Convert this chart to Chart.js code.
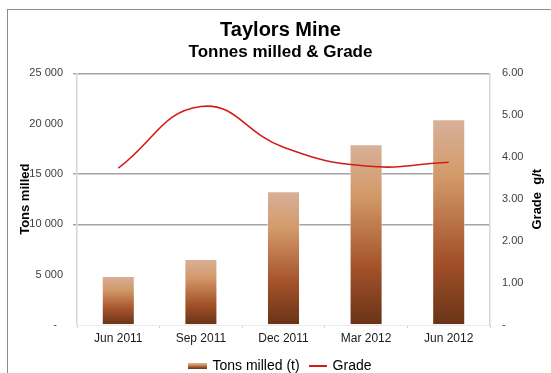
<!DOCTYPE html>
<html>
<head>
<meta charset="utf-8">
<script src="https://cdn.jsdelivr.net/npm/chart.js@4"></script>
<style>
    html, body { margin: 0; padding: 0; background: #fff; overflow: hidden; }
    #frame { position: absolute; left: 7px; top: 9px; width: 560px; height: 400px; border: 1px solid #8c8c8c; box-sizing: border-box; }
    #wrap { position: absolute; left: 0; top: 0; width: 551px; height: 386px; }
</style>
</head>
<body>
<div id="frame"></div>
<div id="wrap"><canvas id="mineChart" width="551" height="386"></canvas></div>
<script>
    const categories = ['Jun 2011', 'Sep 2011', 'Dec 2011', 'Mar 2012', 'Jun 2012'];
    const tonsMilled = [4870, 6550, 13300, 17950, 20450];
    const grade = [3.74, 5.21, 4.24, 3.79, 3.88];
    const tonsTicks = [0, 5000, 10000, 15000, 20000, 25000];
    const gradeTicks = [0, 1, 2, 3, 4, 5, 6];
    const tonsGridAt = [10000, 15000, 25000];

    const FONT = '"Liberation Sans", Arial, sans-serif';

    function brownGradient(ctx, top, bottom) {
        const g = ctx.createLinearGradient(0, top, 0, bottom);
        g.addColorStop(0, '#d8b09a');
        g.addColorStop(0.28, '#d39a69');
        g.addColorStop(0.68, '#a4522a');
        g.addColorStop(1, '#693317');
        return g;
    }

    function barFill(c) {
        const y = c.chart.scales.y;
        if (!y || c.raw == null) return '#a4522a';
        return brownGradient(c.chart.ctx, y.getPixelForValue(c.raw), y.getPixelForValue(0));
    }

    function fmtTons(v) {
        if (v === 0) return '-  ';
        return String(v).replace(/\B(?=(\d{3})+(?!\d))/g, ' ');
    }

    function makeSwatch(w, h, draw) {
        const cv = document.createElement('canvas');
        cv.width = w;
        cv.height = h;
        draw(cv.getContext('2d'));
        return cv;
    }

    const barSwatch = makeSwatch(19, 6, function (c) {
        c.fillStyle = brownGradient(c, 0, 6);
        c.fillRect(0, 0, 19, 6);
    });
    const lineSwatch = makeSwatch(18, 2, function (c) {
        c.fillStyle = '#d41c1c';
        c.fillRect(0, 0, 18, 2);
    });

    // right axis title reads bottom-to-top like the left one
    const rightTitle = {
        id: 'rightTitle',
        afterDraw: function (chart) {
            const s = chart.scales.y1;
            const ctx = chart.ctx;
            ctx.save();
            ctx.translate(s.right - 10, (s.top + s.bottom) / 2);
            ctx.rotate(-Math.PI / 2);
            ctx.textAlign = 'center';
            ctx.textBaseline = 'middle';
            ctx.fillStyle = '#000';
            ctx.font = 'bold 13px ' + FONT;
            ctx.fillText('Grade  g/t', 0, 0);
            ctx.restore();
        }
    };

    new Chart(document.getElementById('mineChart'), {
        data: {
            labels: categories,
            datasets: [
                {
                    type: 'line',
                    label: 'Grade',
                    data: grade,
                    yAxisID: 'y1',
                    borderColor: '#d41c1c',
                    borderWidth: 1.6,
                    tension: 0.45,
                    pointRadius: 0,
                    fill: false,
                    order: 0
                },
                {
                    type: 'bar',
                    label: 'Tons milled (t)',
                    data: tonsMilled,
                    yAxisID: 'y',
                    backgroundColor: barFill,
                    borderColor: 'rgba(255,255,255,0.5)',
                    borderWidth: 1,
                    barPercentage: 0.4,
                    categoryPercentage: 1,
                    order: 1
                }
            ]
        },
        options: {
            responsive: false,
            animation: false,
            layout: { padding: { top: 18, left: 14, right: 4, bottom: 3 } },
            plugins: {
                title: {
                    display: true,
                    text: 'Taylors Mine',
                    color: '#000',
                    font: { family: FONT, size: 20, weight: 'bold' },
                    padding: { top: 0, bottom: 0 }
                },
                subtitle: {
                    display: true,
                    text: 'Tonnes milled & Grade',
                    color: '#000',
                    font: { family: FONT, size: 17, weight: 'bold' },
                    padding: { top: 0, bottom: 11 }
                },
                legend: {
                    position: 'bottom',
                    labels: {
                        usePointStyle: true,
                        pointStyleWidth: 16,
                        boxHeight: 14,
                        padding: 10,
                        color: '#1a1a1a',
                        font: { family: FONT, size: 14 },
                        generateLabels: function () {
                            return [
                                { text: 'Tons milled (t)', pointStyle: barSwatch, fillStyle: '#a4522a', strokeStyle: 'transparent', lineWidth: 0, datasetIndex: 1 },
                                { text: 'Grade', pointStyle: lineSwatch, fillStyle: '#d41c1c', strokeStyle: 'transparent', lineWidth: 0, datasetIndex: 0 }
                            ];
                        }
                    }
                },
                tooltip: { enabled: false }
            },
            scales: {
                x: {
                    grid: {
                        offset: true,
                        drawOnChartArea: false,
                        drawTicks: true,
                        tickLength: 3,
                        tickColor: '#d0d0d0'
                    },
                    border: { display: true, color: '#ececec' },
                    ticks: {
                        padding: 3,
                        color: '#1a1a1a',
                        font: { family: FONT, size: 12 }
                    },
                    afterFit: function (s) { s.height = 24; }
                },
                y: {
                    position: 'left',
                    min: 0,
                    max: 25000,
                    afterBuildTicks: function (s) { s.ticks = tonsTicks.map(function (v) { return { value: v }; }); },
                    grid: {
                        color: function (c) { return tonsGridAt.indexOf(c.tick && c.tick.value) >= 0 ? '#a3a3a3' : 'rgba(0,0,0,0)'; },
                        lineWidth: 1.5,
                        tickLength: 4
                    },
                    border: { display: true, color: '#d6d6d6', width: 1.5 },
                    ticks: {
                        padding: 10,
                        color: '#404040',
                        font: { family: FONT, size: 11 },
                        callback: fmtTons
                    },
                    title: {
                        display: true,
                        text: 'Tons milled',
                        color: '#000',
                        font: { family: FONT, size: 13, weight: 'bold' },
                        padding: { top: 4, bottom: 0 }
                    },
                    afterFit: function (s) { s.width = 63; }
                },
                y1: {
                    position: 'right',
                    min: 0,
                    max: 6,
                    afterBuildTicks: function (s) { s.ticks = gradeTicks.map(function (v) { return { value: v }; }); },
                    grid: { display: false, drawTicks: false },
                    border: { display: true, color: '#d6d6d6', width: 1.5 },
                    ticks: {
                        padding: 12,
                        color: '#404040',
                        font: { family: FONT, size: 11 },
                        callback: function (v) { return v === 0 ? '-' : v.toFixed(2); }
                    },
                    afterFit: function (s) { s.width = 57; }
                }
            }
        },
        plugins: [rightTitle]
    });
</script>
</body>
</html>
